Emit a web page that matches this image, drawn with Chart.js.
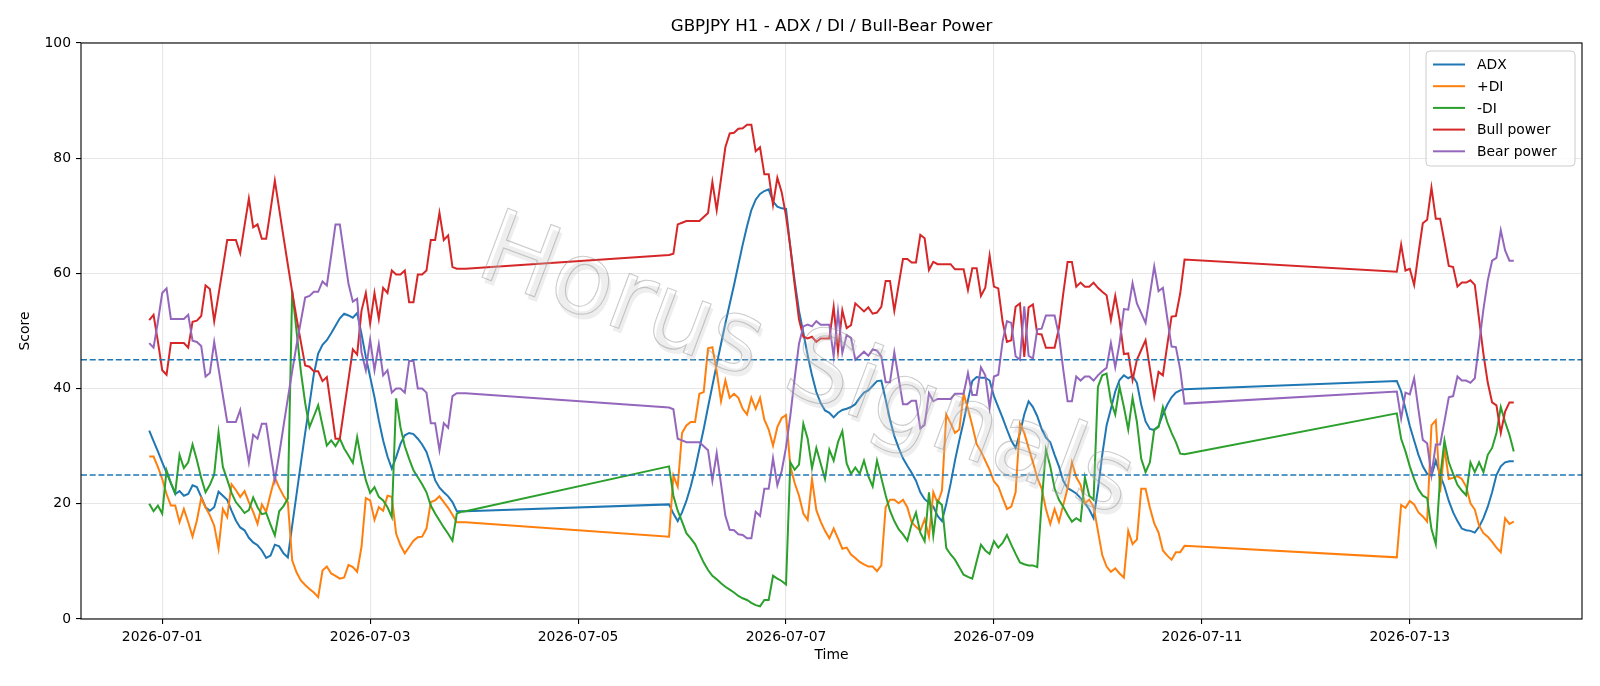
<!DOCTYPE html>
<html>
<head>
<meta charset="utf-8">
<title>GBPJPY H1 - ADX / DI / Bull-Bear Power</title>
<script src="https://cdn.jsdelivr.net/npm/chart.js@4.4.1/dist/chart.umd.min.js"></script>
<style>
  html, body { margin: 0; padding: 0; background: #ffffff; }
  #chart { display: block; }
</style>
</head>
<body>
<canvas id="chart" width="1600" height="686"></canvas>
<script>
// trading sessions (hourly bars, weekend gaps in between)
var sessions = [
  ["2026-06-30 21:00", "2026-07-03 22:00"],
  ["2026-07-05 21:00", "2026-07-10 20:00"],
  ["2026-07-12 21:00", "2026-07-14 00:00"]
];
var tickDates = ["2026-07-01", "2026-07-03", "2026-07-05", "2026-07-07", "2026-07-09", "2026-07-11", "2026-07-13"];
var yTicks = [0, 20, 40, 60, 80, 100];
var thresholds = [25, 45];

var adx = [
  32.7, 30.9, 29.1, 27.2, 25.4, 23.6, 21.7, 22.2, 21.4, 21.7,
  23.2, 22.9, 21.2, 19.4, 18.8, 19.4, 22.1, 21.4, 20.7, 18.8,
  17.1, 15.9, 15.4, 14.1, 13.3, 12.8, 11.9, 10.6, 11.0, 12.9,
  12.6, 11.4, 10.7, 16.2, 21.6, 27.0, 32.3, 37.3, 42.5, 46.1,
  47.6, 48.4, 49.6, 50.9, 52.2, 53.0, 52.7, 52.3, 53.1, 49.5,
  45.5, 42.0, 38.5, 34.5, 31.0, 28.2, 26.1, 28.1, 30.4, 31.9,
  32.3, 32.1, 31.3, 30.3, 29.0, 26.7, 24.1, 22.8, 22.0, 21.3,
  20.3, 18.7, 18.7, 18.7,
  19.9, 18.3, 17.0, 18.5, 20.5, 23.0, 26.0, 29.5, 33.0, 36.8,
  40.5, 44.2, 47.8, 51.3, 54.7, 58.0, 61.5, 65.0, 68.2, 71.0,
  72.8, 73.8, 74.3, 74.6, 72.5, 71.6, 71.3, 71.2, 64.5, 58.7,
  53.5, 49.7, 45.8, 42.3, 39.4, 37.5, 36.2, 35.8, 35.0, 35.8,
  36.3, 36.5, 36.8, 37.3, 38.4, 39.3, 39.7, 40.5, 41.3, 41.4,
  38.1, 34.6, 31.8, 29.7, 27.9, 26.6, 25.4, 24.0, 22.0, 20.8,
  20.2, 19.5, 17.9, 17.0, 20.0, 23.5, 27.5, 31.0, 34.3, 38.0,
  41.3, 42.0, 41.9, 41.9, 41.4, 38.7, 36.8, 34.9, 32.9, 31.0,
  29.7, 32.3, 35.5, 37.8, 36.8, 35.2, 33.0, 31.5, 30.7, 28.5,
  26.5, 24.0, 22.7, 22.3, 21.8, 21.0, 20.1, 19.0, 17.5, 22.5,
  28.5, 33.6, 36.5, 39.5, 41.5, 42.3, 41.8, 42.2, 41.0, 37.2,
  34.3, 33.0, 32.8, 33.5, 35.5, 37.2, 38.5, 39.3, 39.7, 39.9,
  41.3, 39.5, 36.5, 33.5, 31.0, 28.5, 26.5, 25.2, 24.9, 27.5,
  25.0, 23.0, 20.5, 18.5, 17.0, 15.7, 15.4, 15.3, 15.0, 16.0,
  17.5, 19.5, 22.0, 25.0, 26.5, 27.2, 27.4, 27.4
];

var plusDI = [
  28.2, 28.2, 26.4, 24.3, 21.7, 19.7, 19.7, 16.8, 19.1, 16.8,
  14.3, 17.1, 21.0, 19.4, 18.0, 16.2, 12.2, 19.1, 17.7, 23.4,
  22.4, 21.2, 22.2, 20.3, 18.6, 16.5, 19.9, 18.6, 21.7, 24.6,
  22.8, 21.4, 20.3, 10.2, 8.1, 6.7, 5.9, 5.2, 4.6, 3.8,
  8.4, 9.1, 7.9, 7.5, 7.0, 7.2, 9.4, 9.0, 8.2, 12.5,
  21.0, 20.6, 17.2, 19.4, 18.8, 21.4, 21.2, 14.8, 12.8, 11.4,
  12.5, 13.6, 14.2, 14.3, 15.7, 20.3, 20.6, 21.3, 20.3, 19.3,
  18.1, 16.8, 16.8, 16.8,
  14.3, 24.9, 23.0, 32.3, 33.6, 34.2, 34.2, 39.1, 39.4, 47.0,
  47.2, 43.0, 37.8, 41.4, 38.4, 39.1, 38.4, 36.5, 35.5, 38.4,
  36.5, 38.4, 34.6, 32.9, 30.1, 33.3, 34.9, 35.4, 26.5, 23.6,
  21.4, 18.3, 17.2, 24.3, 18.9, 16.9, 15.3, 14.0, 15.7, 14.0,
  12.2, 12.4, 11.2, 10.6, 9.9, 9.5, 9.1, 9.1, 8.3, 9.3,
  19.4, 20.7, 20.7, 20.1, 20.7, 19.4, 16.8, 16.0, 15.3, 17.3,
  14.3, 22.0, 20.1, 22.3, 35.5, 34.0, 32.3, 32.9, 39.1, 36.5,
  33.6, 30.4, 29.1, 27.5, 25.9, 23.9, 23.0, 21.0, 19.1, 19.5,
  22.0, 33.9, 32.3, 29.7, 27.2, 24.5, 22.7, 19.1, 16.5, 19.1,
  16.9, 19.8, 22.7, 27.2, 24.6, 23.3, 20.1, 20.7, 19.5, 15.3,
  11.1, 9.1, 8.2, 8.8, 7.9, 7.2, 15.3, 13.0, 13.8, 22.6,
  22.6, 19.3, 16.6, 15.0, 11.9, 11.0, 10.3, 11.6, 11.6, 12.7,
  10.7, 19.8, 19.3, 20.5, 19.9, 18.5, 17.8, 16.9, 33.6, 34.5,
  22.0, 29.7, 24.3, 24.5, 24.8, 24.3, 23.0, 20.1, 19.0, 16.2,
  14.9, 14.3, 13.4, 12.4, 11.6, 17.5, 16.5, 16.9
];

var minusDI = [
  20.0, 18.7, 19.7, 18.3, 25.8, 23.6, 21.9, 28.5, 26.2, 27.2,
  30.3, 27.6, 24.5, 22.0, 23.3, 25.1, 32.4, 26.4, 24.2, 21.9,
  20.3, 19.4, 18.4, 18.9, 21.1, 19.4, 18.2, 18.4, 16.4, 14.5,
  18.7, 19.6, 20.9, 57.0, 50.0, 43.0, 37.5, 33.3, 35.2, 37.1,
  33.6, 30.1, 31.0, 30.0, 31.3, 29.6, 28.4, 27.1, 31.6, 27.5,
  24.1, 21.9, 22.9, 21.2, 20.6, 19.4, 17.7, 38.3, 33.3, 30.0,
  27.8, 25.8, 24.6, 23.4, 22.0, 19.7, 18.3, 17.1, 15.9, 14.8,
  13.6, 18.3, 18.6, 18.7,
  26.5, 21.4, 18.8, 16.9, 14.9, 14.0, 13.0, 11.4, 9.8, 8.5,
  7.5, 6.9, 6.2, 5.6, 5.1, 4.6, 4.0, 3.6, 3.3, 2.8,
  2.4, 2.2, 3.3, 3.3, 7.5, 7.0, 6.6, 6.0, 27.2, 25.9,
  26.8, 33.9, 31.3, 26.2, 29.7, 27.0, 24.3, 29.4, 27.5, 30.7,
  32.6, 27.0, 25.2, 26.3, 25.2, 27.5, 24.8, 23.0, 27.5, 24.5,
  21.5, 18.8, 17.0, 15.6, 14.7, 13.6, 16.5, 18.5, 15.0, 13.5,
  22.0, 14.5, 20.5, 19.8, 12.3, 11.2, 10.3, 9.0, 7.7, 7.3,
  7.0, 10.0, 12.9, 11.9, 11.3, 13.5, 12.4, 13.2, 14.6, 12.9,
  11.3, 9.8, 9.5, 9.3, 9.3, 9.0, 20.0, 29.4, 26.5, 22.7,
  20.7, 19.5, 18.1, 16.9, 17.5, 17.0, 24.6, 21.4, 20.7, 40.3,
  42.3, 42.6, 37.8, 35.5, 40.3, 36.8, 32.9, 38.4, 34.2, 27.8,
  25.5, 27.2, 32.9, 33.3, 36.8, 34.2, 32.3, 30.7, 28.7, 28.6,
  35.7, 31.3, 29.1, 26.5, 24.3, 22.5, 21.4, 21.0, 15.6, 13.0,
  24.5, 31.0, 27.2, 25.2, 23.3, 22.3, 21.5, 27.2, 25.5, 27.2,
  25.5, 28.5, 29.7, 32.3, 36.8, 34.2, 32.0, 29.1
];

var bullPower = [
  51.9, 52.8, 48.2, 43.2, 42.4, 47.9, 47.9, 47.9, 47.9, 47.1,
  51.6, 51.8, 52.6, 57.9, 57.3, 51.7, 56.3, 61.0, 65.8, 65.8,
  65.8, 63.5, 68.3, 73.0, 68.0, 68.5, 66.0, 66.0, 71.0, 76.1,
  71.2, 66.3, 61.5, 56.8, 52.3, 48.1, 44.0, 43.8, 43.0, 43.0,
  41.3, 42.0, 36.7, 31.3, 31.3, 36.5, 41.6, 46.8, 45.9, 53.5,
  56.6, 51.3, 56.6, 52.1, 57.5, 56.6, 60.5, 59.8, 59.8, 60.5,
  55.0, 55.0, 59.8, 59.8, 60.5, 65.8, 65.8, 70.5, 65.8, 66.6,
  61.1, 60.8, 60.8, 60.8,
  63.2, 63.4, 68.5, 68.8, 69.1, 69.1, 69.1, 69.1, 69.8, 70.5,
  75.9, 71.0, 76.4, 81.9, 84.3, 84.4, 85.1, 85.2, 85.8, 85.8,
  81.2, 81.9, 77.2, 77.2, 71.9, 76.6, 74.1, 70.0, 64.5, 58.0,
  52.0, 49.0, 48.7, 49.0, 48.1, 48.7, 48.7, 48.7, 54.2, 46.5,
  53.6, 50.5, 51.0, 54.8, 54.1, 53.4, 54.1, 53.0, 53.2, 54.2,
  58.7, 58.7, 53.5, 58.0, 62.5, 62.5, 61.9, 61.9, 66.7, 66.1,
  60.6, 62.0, 61.6, 61.6, 61.6, 61.6, 60.7, 60.7, 60.7, 57.1,
  60.9, 60.9, 56.1, 57.5, 63.1, 57.7, 57.4, 51.6, 48.1, 48.4,
  54.2, 54.8, 45.5, 54.1, 54.6, 49.5, 49.4, 47.1, 47.1, 47.1,
  50.5, 56.5, 62.0, 62.0, 57.7, 58.4, 57.7, 57.7, 58.4, 57.5,
  56.8, 56.2, 51.9, 56.1, 51.9, 46.0, 46.1, 41.5, 45.0, 46.7,
  48.4, 43.5, 38.6, 42.9, 42.3, 47.5, 52.5, 52.6, 56.5, 62.4,
  60.3, 65.0, 60.5, 60.8, 58.0, 63.5, 68.7, 69.3, 74.9, 69.5,
  69.5, 65.5, 61.3, 61.1, 57.7, 58.4, 58.4, 58.8, 58.0, 52.0,
  46.0, 41.0, 37.6, 37.1, 32.3, 36.0, 37.6, 37.6
];

var bearPower = [
  47.9, 47.1, 51.6, 56.6, 57.4, 52.1, 52.1, 52.1, 52.1, 52.8,
  48.3, 48.1, 47.4, 42.1, 42.7, 48.1, 43.5, 38.8, 34.2, 34.2,
  34.2, 36.3, 31.6, 27.2, 32.0, 31.3, 33.9, 33.9, 28.8, 24.1,
  28.6, 33.5, 38.3, 43.0, 47.5, 51.7, 55.8, 56.1, 56.8, 56.8,
  58.6, 57.9, 63.1, 68.5, 68.5, 63.3, 58.2, 55.1, 55.6, 46.3,
  43.2, 48.5, 43.2, 47.7, 42.3, 43.2, 39.3, 40.0, 40.0, 39.3,
  44.8, 44.8, 40.0, 40.0, 39.3, 34.0, 34.0, 29.3, 34.0, 33.2,
  38.7, 39.2, 39.2, 39.2,
  36.7, 36.4, 31.3, 31.0, 30.7, 30.7, 30.7, 30.7, 30.0, 29.3,
  24.0, 28.8, 23.4, 17.9, 15.5, 15.4, 14.7, 14.6, 14.0, 14.0,
  18.6, 17.9, 22.6, 22.6, 27.9, 23.2, 25.7, 29.8, 35.3, 41.8,
  47.8, 50.8, 51.1, 50.8, 51.7, 51.1, 51.1, 51.1, 45.6, 53.3,
  46.2, 49.3, 48.8, 45.0, 45.7, 46.4, 45.7, 46.8, 46.6, 45.6,
  41.1, 41.1, 46.3, 41.8, 37.3, 37.3, 37.9, 37.9, 33.1, 33.7,
  39.2, 37.8, 38.2, 38.2, 38.2, 38.2, 39.1, 39.1, 39.1, 42.7,
  38.9, 38.9, 43.7, 42.3, 36.7, 42.1, 42.4, 48.2, 51.7, 51.4,
  45.6, 45.0, 54.3, 45.7, 45.2, 50.3, 50.4, 52.7, 52.7, 52.7,
  49.3, 43.3, 37.8, 37.8, 42.1, 41.4, 42.1, 42.1, 41.4, 42.3,
  43.0, 43.6, 47.9, 43.7, 47.9, 53.8, 53.7, 58.3, 54.8, 53.1,
  51.4, 56.3, 61.2, 56.9, 57.5, 52.3, 47.3, 47.2, 43.3, 37.4,
  39.5, 34.8, 39.3, 39.0, 41.8, 36.3, 31.1, 30.5, 25.0, 30.3,
  30.3, 34.3, 38.5, 38.7, 42.1, 41.4, 41.4, 41.0, 41.8, 47.8,
  53.8, 58.8, 62.2, 62.7, 67.5, 64.0, 62.2, 62.2
];

var seriesNames = ["ADX", "+DI", "-DI", "Bull power", "Bear power"];
var seriesColors = ["#1f77b4", "#ff7f0e", "#2ca02c", "#d62728", "#9467bd"];
var seriesValues = [adx, plusDI, minusDI, bullPower, bearPower];

var FONT = "'DejaVu Sans', 'Liberation Sans', sans-serif";
var HOUR = 3600000;
var origin = Date.UTC(2026, 6, 1);

function toHours(s) {
  return (Date.parse(s.replace(" ", "T") + ":00Z") - origin) / HOUR;
}

function dateLabel(h) {
  return new Date(origin + h * HOUR).toISOString().slice(0, 10);
}

// one x value per hourly bar
var hours = [];
sessions.forEach(function(s) {
  for (var h = toHours(s[0]); h <= toHours(s[1]); h++) {
    hours.push(h);
  }
});

var tickHours = tickDates.map(function(d) {
  return toHours(d + " 00:00");
});

// matplotlib default 5% x margins
var span = hours[hours.length - 1] - hours[0];
var xMin = hours[0] - span * 0.05;
var xMax = hours[hours.length - 1] + span * 0.05;

var datasets = seriesValues.map(function(vals, i) {
  return {
    label: seriesNames[i],
    data: vals.map(function(v, j) {
      return { x: hours[j], y: v };
    }),
    borderColor: seriesColors[i],
    backgroundColor: seriesColors[i],
    borderWidth: 2,
    pointRadius: 0,
    tension: 0,
    fill: false,
    order: seriesValues.length - i
  };
});

function roundRect(ctx, x, y, w, h, r) {
  ctx.beginPath();
  ctx.moveTo(x + r, y);
  ctx.lineTo(x + w - r, y);
  ctx.arcTo(x + w, y, x + w, y + r, r);
  ctx.lineTo(x + w, y + h - r);
  ctx.arcTo(x + w, y + h, x + w - r, y + h, r);
  ctx.lineTo(x + r, y + h);
  ctx.arcTo(x, y + h, x, y + h - r, r);
  ctx.lineTo(x, y + r);
  ctx.arcTo(x, y, x + r, y, r);
  ctx.closePath();
}

var mplLook = {
  id: "mplLook",
  afterDatasetsDraw: function(chart) {
    var ctx = chart.ctx;
    var area = chart.chartArea;
    var yScale = chart.scales.y;
    ctx.save();
    ctx.beginPath();
    ctx.rect(area.left, area.top, area.right - area.left, area.bottom - area.top);
    ctx.clip();

    // dashed threshold lines
    ctx.strokeStyle = "#1f77b4";
    ctx.lineWidth = 1.5;
    ctx.setLineDash([6, 2.7]);
    thresholds.forEach(function(t) {
      var py = yScale.getPixelForValue(t);
      ctx.beginPath();
      ctx.moveTo(area.left, py);
      ctx.lineTo(area.right, py);
      ctx.stroke();
    });
    ctx.setLineDash([]);

    // watermark
    var text = "Horus Signals";
    ctx.translate(805, 370);
    ctx.rotate(20.5 * Math.PI / 180);
    ctx.font = "100px " + FONT;
    var size = 100 * 690 / ctx.measureText(text).width;
    ctx.font = size + "px " + FONT;
    ctx.textAlign = "center";
    ctx.textBaseline = "middle";
    ctx.fillStyle = "rgba(200,200,200,0.3)";
    ctx.fillText(text, 4, 4);
    ctx.strokeStyle = "rgba(140,140,140,0.45)";
    ctx.lineWidth = 1.1;
    ctx.strokeText(text, 0, 0);
    ctx.restore();
  },
  afterDraw: function(chart) {
    var ctx = chart.ctx;
    var area = chart.chartArea;
    ctx.save();

    // axes frame
    ctx.strokeStyle = "#000000";
    ctx.lineWidth = 1.1;
    ctx.strokeRect(area.left, area.top, area.right - area.left, area.bottom - area.top);

    // title and axis labels
    ctx.fillStyle = "#000000";
    ctx.textAlign = "center";
    ctx.font = "16.7px " + FONT;
    ctx.textBaseline = "bottom";
    ctx.fillText("GBPJPY H1 - ADX / DI / Bull-Bear Power", (area.left + area.right) / 2, 35);
    ctx.font = "13.9px " + FONT;
    ctx.textBaseline = "top";
    ctx.fillText("Time", (area.left + area.right) / 2, 648);
    ctx.save();
    ctx.translate(25.5, (area.top + area.bottom) / 2);
    ctx.rotate(-Math.PI / 2);
    ctx.textBaseline = "middle";
    ctx.fillText("Score", 0, 0);
    ctx.restore();

    // legend, upper right
    var bx = area.right - 156, by = area.top + 8, bw = 149, bh = 115;
    roundRect(ctx, bx, by, bw, bh, 4);
    ctx.fillStyle = "rgba(255,255,255,0.8)";
    ctx.fill();
    ctx.strokeStyle = "#cccccc";
    ctx.lineWidth = 1;
    ctx.stroke();
    ctx.font = "13.9px " + FONT;
    ctx.textAlign = "left";
    ctx.textBaseline = "middle";
    seriesNames.forEach(function(name, i) {
      var ly = by + 13.5 + i * 21.7;
      ctx.strokeStyle = seriesColors[i];
      ctx.lineWidth = 2;
      ctx.beginPath();
      ctx.moveTo(bx + 7, ly);
      ctx.lineTo(bx + 39, ly);
      ctx.stroke();
      ctx.fillStyle = "#000000";
      ctx.fillText(name, bx + 51, ly + 1);
    });
    ctx.restore();
  }
};

var tickFont = { family: FONT, size: 13.9 };

new Chart(document.getElementById("chart"), {
  type: "line",
  data: { datasets: datasets },
  options: {
    responsive: false,
    animation: false,
    devicePixelRatio: 1,
    layout: { padding: { left: 0, right: 18, top: 43, bottom: 0 } },
    plugins: {
      legend: { display: false },
      tooltip: { enabled: false },
      title: { display: false }
    },
    scales: {
      x: {
        type: "linear",
        min: xMin,
        max: xMax,
        afterFit: function(scale) {
          scale.height = 67;
        },
        afterBuildTicks: function(scale) {
          scale.ticks = tickHours.map(function(v) {
            return { value: v };
          });
        },
        ticks: {
          autoSkip: false,
          maxRotation: 0,
          padding: 5,
          color: "#000000",
          font: tickFont,
          callback: function(value) {
            return dateLabel(value);
          }
        },
        grid: {
          color: "#e6e6e6",
          lineWidth: 1.1,
          tickColor: "#000000",
          tickLength: 5,
          tickWidth: 1.1
        },
        border: { display: false }
      },
      y: {
        min: 0,
        max: 100,
        afterFit: function(scale) {
          scale.width = 81;
        },
        afterBuildTicks: function(scale) {
          scale.ticks = yTicks.map(function(v) {
            return { value: v };
          });
        },
        ticks: {
          padding: 5,
          color: "#000000",
          font: tickFont
        },
        grid: {
          color: "#e6e6e6",
          lineWidth: 1.1,
          tickColor: "#000000",
          tickLength: 5,
          tickWidth: 1.1
        },
        border: { display: false }
      }
    }
  },
  plugins: [mplLook]
});
</script>
</body>
</html>
